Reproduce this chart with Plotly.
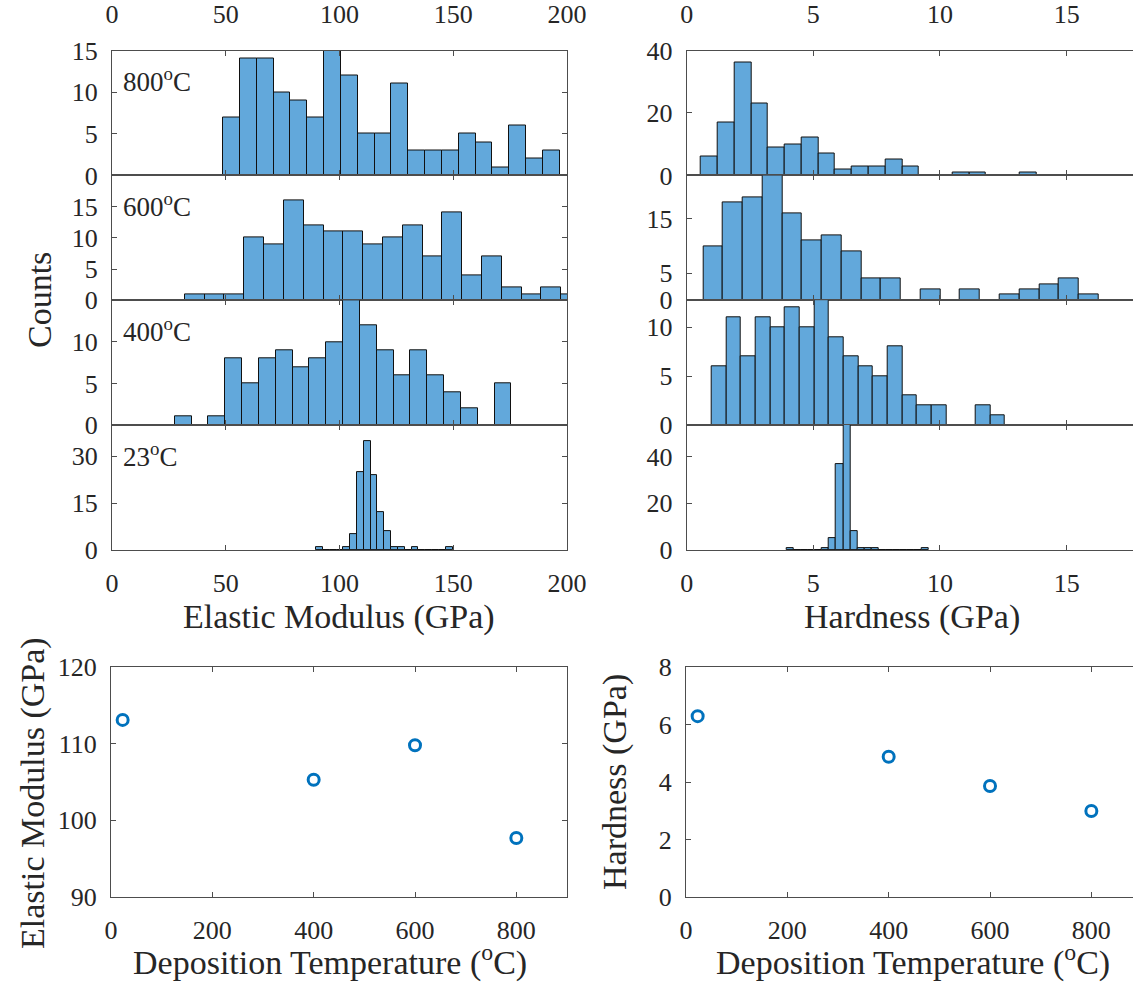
import plotly.graph_objects as go

# ---------------- data ----------------
# Elastic modulus histograms (GPa): first bin edge, bin width, counts
E800_start, E800_width = 48.8, 7.4
E800_counts = [7, 14, 14, 10, 9, 7, 15, 12, 5, 5, 11, 3, 3, 3, 5, 4, 1, 6, 2, 3]
E600_start, E600_width = 32.0, 8.71
E600_counts = [1, 1, 1, 10, 9, 16, 12, 11, 11, 9, 10, 12, 7, 14, 4, 7, 2, 1, 2, 1]
E400_start, E400_width = 27.6, 7.4
E400_counts = [1, 0, 1, 8, 5, 8, 9, 7, 8, 10, 15, 12, 9, 6, 9, 6, 4, 2, 0, 5]
E23_start, E23_width = 89.7, 3.0
E23_counts = [1, 0, 0, 0, 1, 5, 25, 35, 24, 12, 6, 1, 1, 0, 1, 0, 0, 0, 0, 1]

# Hardness histograms (GPa)
H800_start, H800_width = 0.565, 0.662
H800_counts = [6, 17, 36, 23, 9, 10, 12, 7, 2, 3, 3, 5, 3, 0, 0, 1, 1, 0, 0, 1]
H600_start, H600_width = 0.657, 0.78
H600_counts = [10, 18, 19, 23, 16, 11, 12, 9, 4, 4, 0, 2, 0, 2, 0, 1, 2, 3, 4, 1]
H400_start, H400_width = 0.987, 0.579
H400_counts = [6, 11, 7, 11, 10, 12, 10, 13, 9, 7, 6, 5, 8, 3, 2, 2, 0, 0, 2, 1]
H23_start, H23_width = 3.94, 0.28
H23_counts = [1, 0, 0, 0, 0, 1, 5, 37, 58, 8, 1, 1, 1, 0, 0, 0, 0, 0, 0, 1]

temp_labels = ["800", "600", "400", "23"]

# Mean values vs deposition temperature
dep_temp = [23, 400, 600, 800]
E_mean = [113.1, 105.3, 109.8, 97.7]
H_mean = [6.29, 4.88, 3.86, 2.99]

# ---------------- style ----------------
W, H = 1133, 987
FONT = "Liberation Serif"
TXT = "#262626"
AX = "#4d4d4d"
BAR = "#62a8db"
TICKF = 26
TITLEF = 34


def xd(a, b):
    return [a / W, b / W]


def yd(top, bottom):
    return [1 - bottom / H, 1 - top / H]


def centers(start, width, counts):
    return [start + width * (i + 0.5) for i in range(len(counts))]


fig = go.Figure()

hist_E = [(E800_start, E800_width, E800_counts), (E600_start, E600_width, E600_counts),
          (E400_start, E400_width, E400_counts), (E23_start, E23_width, E23_counts)]
hist_H = [(H800_start, H800_width, H800_counts), (H600_start, H600_width, H600_counts),
          (H400_start, H400_width, H400_counts), (H23_start, H23_width, H23_counts)]

for k, (s, w, c) in enumerate(hist_E + hist_H):
    n = k + 1
    fig.add_trace(go.Bar(x=centers(s, w, c), y=c, width=w,
                         marker=dict(color=BAR, line=dict(color="#111111", width=1)),
                         xaxis=f"x{n}", yaxis=f"y{n}", showlegend=False, hoverinfo="skip"))

fig.add_trace(go.Scatter(x=dep_temp, y=E_mean, mode="markers", xaxis="x9", yaxis="y9",
                         marker=dict(symbol="circle-open", size=11, color="#0072BD",
                                     line=dict(width=3, color="#0072BD")), showlegend=False))
fig.add_trace(go.Scatter(x=dep_temp, y=H_mean, mode="markers", xaxis="x10", yaxis="y10",
                         marker=dict(symbol="circle-open", size=11, color="#0072BD",
                                     line=dict(width=3, color="#0072BD")), showlegend=False))

panel_y = [(50.5, 175.4), (175.4, 300.3), (300.3, 425.1), (425.1, 550.0)]

base_axis = dict(showline=True, linecolor=AX, linewidth=1, ticks="inside", ticklen=5,
                 tickcolor=AX, tickwidth=1, showgrid=False, zeroline=False, automargin=False,
                 tickfont=dict(family=FONT, size=TICKF, color=TXT), fixedrange=True)

E_yr = [[0, 15], [0, 20], [0, 15], [0, 40]]
E_yt = [[0, 5, 10, 15], [0, 5, 10, 15], [0, 5, 10], [0, 15, 30]]
H_yr = [[0, 40], [0, 23], [0, 12.75], [0, 53.5]]
H_yt = [[0, 20, 40], [0, 5, 15], [0, 5, 10], [0, 20, 40]]

layout = {}
for col in range(2):
    for i in range(4):
        n = col * 4 + i + 1
        top, bot = panel_y[i]
        if col == 0:
            xdom = xd(112, 567)
            xr = [0, 200]
            xt = [0, 50, 100, 150, 200]
            yr, yt = E_yr[i], E_yt[i]
            ymir = "ticks"
        else:
            xdom = xd(686.7, 1133)
            xr = [0, 17.62]
            xt = [0, 5, 10, 15]
            yr, yt = H_yr[i], H_yt[i]
            ymir = False
        xa = dict(base_axis, domain=xdom, range=xr, tickvals=xt, mirror="ticks",
                  anchor=f"y{n}", ticklabelstandoff=10)
        if i == 0:
            xa.update(side="top", showticklabels=True, ticklabelstandoff=16)
        elif i == 3:
            xa.update(side="bottom", showticklabels=True)
        else:
            xa.update(showticklabels=False)
        ya = dict(base_axis, domain=yd(top, bot), range=yr, tickvals=yt, mirror=ymir,
                  anchor=f"x{n}", ticklabelstandoff=8)
        layout[f"xaxis{n}"] = xa
        layout[f"yaxis{n}"] = ya

# scatter axes
layout["xaxis9"] = dict(base_axis, domain=xd(111, 567), range=[0, 900],
                        tickvals=[0, 200, 400, 600, 800], mirror="ticks", anchor="y9",
                        ticklabelstandoff=10)
layout["yaxis9"] = dict(base_axis, domain=yd(667, 897), range=[90, 120],
                        tickvals=[90, 100, 110, 120], mirror="ticks", anchor="x9",
                        ticklabelstandoff=8)
layout["xaxis10"] = dict(base_axis, domain=xd(686, 1133), range=[0, 882.2],
                         tickvals=[0, 200, 400, 600, 800], mirror="ticks", anchor="y10",
                         ticklabelstandoff=10)
layout["yaxis10"] = dict(base_axis, domain=yd(667, 897), range=[0, 8],
                         tickvals=[0, 2, 4, 6, 8], mirror=False, anchor="x10",
                         ticklabelstandoff=8)

ann = []
for i, t in enumerate(temp_labels):
    top, _ = panel_y[i]
    ann.append(dict(text=f"{t}<sup>o</sup>C", x=121 / W, xanchor="left",
                    y=1 - (top + 30) / H, yanchor="middle", xref="paper", yref="paper",
                    showarrow=False, font=dict(family=FONT, size=27, color=TXT)))


def title(text, x, y, angle=0):
    return dict(text=text, x=x / W, y=1 - y / H, xref="paper", yref="paper",
                xanchor="center", yanchor="middle", showarrow=False, textangle=angle,
                font=dict(family=FONT, size=TITLEF, color=TXT))


ann += [
    title("Elastic Modulus (GPa)", 339, 617),
    title("Hardness (GPa)", 912, 617),
    title("Counts", 40, 300, -90),
    title("Elastic Modulus (GPa)", 33, 793, -90),
    title("Hardness (GPa)", 615, 782, -90),
    title("Deposition Temperature (<sup>o</sup>C)", 330, 960),
    title("Deposition Temperature (<sup>o</sup>C)", 913, 960),
]

fig.update_layout(width=W, height=H, margin=dict(l=0, r=0, t=0, b=0),
                  paper_bgcolor="white", plot_bgcolor="white", bargap=0,
                  annotations=ann, **layout)

fig.write_html("out.html")
